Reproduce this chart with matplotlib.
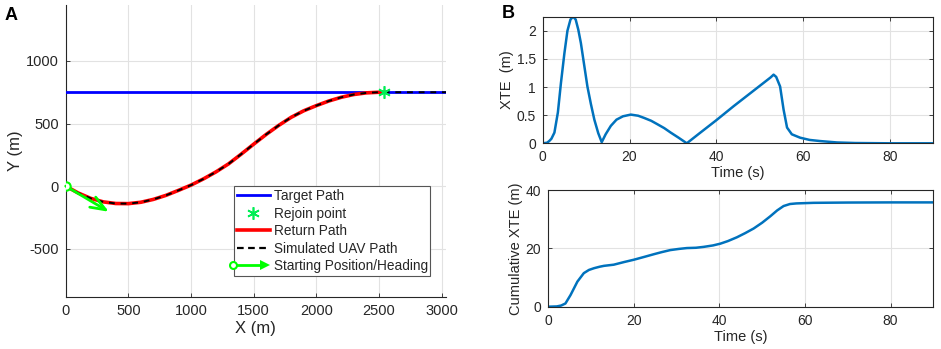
import matplotlib
matplotlib.use("Agg")
import matplotlib.pyplot as plt
from matplotlib.lines import Line2D
from matplotlib.legend_handler import HandlerBase
from matplotlib.ticker import FuncFormatter

plt.rcParams['font.family'] = ['Liberation Sans', 'DejaVu Sans']
plt.rcParams['axes.unicode_minus'] = False

# ---------------- data (panel A) ----------------
target_x = [0, 3035]
target_y = [750, 750]

return_x = [0, 100, 200, 300, 400, 500, 600, 700, 800, 900, 1000, 1100, 1200, 1300,
            1400, 1500, 1600, 1700, 1800, 1900, 2000, 2100, 2200, 2300, 2400, 2500, 2543]
return_y = [0, -55, -98, -126, -139, -140, -129, -106, -74, -34, 8, 58, 114, 178,
            255, 335, 413, 485, 550, 602, 643, 680, 710, 732, 745, 750, 750]

sim_x = return_x + [2700, 2900, 3035]
sim_y = return_y + [750, 750, 750]

rejoin_x = [2543]
rejoin_y = [750]

start_x, start_y = 0, 0
heading_dx, heading_dy = 345, -205

# ---------------- data (panel B) ----------------
xte_t = [0, 1, 1.5, 2, 2.7, 3.5, 4.2, 5, 5.7, 6.4, 7.0, 7.6, 8.2, 8.8, 9.5, 10.3, 11.1,
         11.9, 12.8, 13.6, 14.5, 15.7, 17, 18.5, 20.3, 22, 23.4, 25, 26.4, 28, 29.5,
         31.3, 33.2, 36, 40, 44, 48, 51, 52.5, 53.2, 53.8, 54.7, 55.5, 56.3, 57.4,
         59.3, 61.5, 63.9, 67.8, 72, 80, 90]
xte_v = [0, 0.01, 0.04, 0.08, 0.19, 0.55, 1.07, 1.6, 2.0, 2.2, 2.25, 2.2, 2.02, 1.78,
         1.42, 1.01, 0.7, 0.42, 0.18, 0.02, 0.16, 0.31, 0.42, 0.48, 0.51, 0.49, 0.45,
         0.40, 0.34, 0.27, 0.19, 0.1, 0.0, 0.17, 0.41, 0.66, 0.9, 1.08, 1.17, 1.22,
         1.18, 1.01, 0.6, 0.28, 0.16, 0.1, 0.06, 0.04, 0.015, 0.005, 0.0, 0.0]

cum_t = [0, 2, 3, 4, 5.2, 6.8, 8.3, 9.5, 10.7, 12, 13, 15.3, 17.7, 20, 22.5, 24.7, 26.5,
         28.5, 30.5, 32.4, 34.5, 36.3, 38.5, 40.2, 42, 44.1, 46, 48, 50, 51.9, 53.5, 55,
         56.5, 58, 62, 70, 80, 90]
cum_v = [0, 0.1, 0.4, 1.1, 4, 8.6, 11.5, 12.6, 13.2, 13.7, 14, 14.4, 15.3, 16.1, 17.1,
         18, 18.7, 19.4, 19.8, 20.1, 20.2, 20.5, 21, 21.6, 22.5, 23.8, 25.2, 26.8, 28.8,
         31, 33, 34.5, 35.2, 35.4, 35.6, 35.7, 35.75, 35.75]

# ---------------- styling ----------------
W, H = 941, 349
fig = plt.figure(figsize=(W / 100, H / 100), dpi=100)

AX_COL = '#262626'
GRID_COL = '#e2e2e2'
MAT_BLUE = '#0072BD'
GREEN = '#00ff00'


def style_axes(ax, box=True, fs=10):
    for side in ['left', 'bottom', 'top', 'right']:
        ax.spines[side].set_color(AX_COL)
        ax.spines[side].set_linewidth(0.8)
    if not box:
        ax.spines['top'].set_visible(False)
        ax.spines['right'].set_visible(False)
    ax.tick_params(direction='in', length=3, width=0.6, colors=AX_COL, labelsize=fs,
                   top=box, right=box)
    ax.tick_params(axis='x', pad=5)
    ax.tick_params(axis='y', pad=5)
    ax.grid(True, color=GRID_COL, linewidth=0.8)
    ax.set_axisbelow(True)


class StartHandler(HandlerBase):
    def create_artists(self, legend, orig_handle, xdescent, ydescent, width, height,
                       fontsize, trans):
        y = height / 2 - ydescent
        x0 = -xdescent - 3
        x1 = width - xdescent
        line = Line2D([x0, x1 - 4], [y, y], color=GREEN, lw=2, transform=trans)
        circ = Line2D([x0], [y], marker='o', mfc='white', mec=GREEN, mew=1.5, ms=5,
                      transform=trans)
        head = Line2D([x1 - 3], [y], marker='>', color=GREEN, ms=7, mew=0,
                      transform=trans)
        return [line, circ, head]


# ---------------- panel A ----------------
axA = fig.add_axes([65.7 / W, 1 - 297 / H, (446 - 65.7) / W, (297 - 5) / H])
style_axes(axA, box=False, fs=10.5)
axA.set_xlim(0, 3035)
axA.set_ylim(-886, 1447)
axA.set_xticks([0, 500, 1000, 1500, 2000, 2500, 3000])
axA.set_yticks([-500, 0, 500, 1000])

axA.plot(target_x, target_y, color='#0000ff', lw=2, zorder=3)
axA.plot(return_x, return_y, color='#ff0000', lw=2.6, zorder=4)
axA.plot(sim_x, sim_y, color='black', lw=1.4, ls=(0, (3, 3)), zorder=5)
axA.plot(rejoin_x, rejoin_y, ls='none', marker=(6, 2, 0), ms=9, mew=1.2,
         color='#00ee55', zorder=6)
axA.annotate('', xy=(start_x + heading_dx, start_y + heading_dy),
             xytext=(start_x, start_y),
             arrowprops=dict(arrowstyle='->,head_length=0.9,head_width=0.35',
                             color=GREEN, lw=2, mutation_scale=12,
                             shrinkA=0, shrinkB=0), zorder=7)
axA.plot([start_x], [start_y], ls='none', marker='o', mfc='white', mec=GREEN,
         mew=1.5, ms=6, zorder=8)

axA.set_xlabel('X (m)', fontsize=12, color=AX_COL, labelpad=2)
axA.set_ylabel('Y (m)', fontsize=12, color=AX_COL, labelpad=2)

h_target = Line2D([], [], color='#0000ff', lw=2)
h_rejoin = Line2D([], [], ls='none', marker=(6, 2, 0), ms=9, mew=1.2, color='#00ee55')
h_return = Line2D([], [], color='#ff0000', lw=2.6)
h_sim = Line2D([], [], color='black', lw=1.6, ls=(0, (3, 2)))
h_start = Line2D([], [], color=GREEN)
leg = axA.legend([h_target, h_rejoin, h_return, h_sim, h_start],
                 ['Target Path', 'Rejoin point', 'Return Path', 'Simulated UAV Path',
                  'Starting Position/Heading'],
                 handler_map={h_start: StartHandler()},
                 loc='lower left', bbox_to_anchor=(0.443, 0.072), borderaxespad=0,
                 fontsize=9.8, handlelength=2.4, handletextpad=0.3, labelspacing=0.26,
                 borderpad=0.2, fancybox=False, framealpha=1, edgecolor='#555555')
leg.get_frame().set_linewidth(0.8)
for t in leg.get_texts():
    t.set_color(AX_COL)

fig.text(5 / W, 1 - 20 / H, 'A', fontsize=13, fontweight='bold', ha='left', va='baseline')

# ---------------- panel B top ----------------
axB1 = fig.add_axes([542.7 / W, 1 - 143.3 / H, (933.3 - 542.7) / W, (143.3 - 16.7) / H])
style_axes(axB1, box=True, fs=10)
axB1.plot(xte_t, xte_v, color=MAT_BLUE, lw=1.8)
axB1.set_xlim(0, 90)
axB1.set_ylim(0, 2.25)
axB1.set_xticks([0, 20, 40, 60, 80])
axB1.set_yticks([0, 0.5, 1, 1.5, 2])
axB1.yaxis.set_major_formatter(FuncFormatter(lambda v, p: f'{v:g}'))
axB1.set_xlabel('Time (s)', fontsize=10.5, color=AX_COL, labelpad=1)
axB1.set_ylabel('XTE  (m)', fontsize=10.5, color=AX_COL, labelpad=2)

fig.text(502 / W, 1 - 18 / H, 'B', fontsize=13, fontweight='bold', ha='left', va='baseline')

# ---------------- panel B bottom ----------------
axB2 = fig.add_axes([548.3 / W, 1 - 306.7 / H, (933.3 - 548.3) / W, (306.7 - 190) / H])
style_axes(axB2, box=True, fs=10)
axB2.plot(cum_t, cum_v, color=MAT_BLUE, lw=1.8)
axB2.set_xlim(0, 90)
axB2.set_ylim(0, 40)
axB2.set_xticks([0, 20, 40, 60, 80])
axB2.set_yticks([0, 20, 40])
axB2.set_xlabel('Time (s)', fontsize=10.5, color=AX_COL, labelpad=2)
axB2.set_ylabel('Cumulative XTE (m)', fontsize=10.5, color=AX_COL, labelpad=2)

fig.savefig('out.png', dpi=100)
